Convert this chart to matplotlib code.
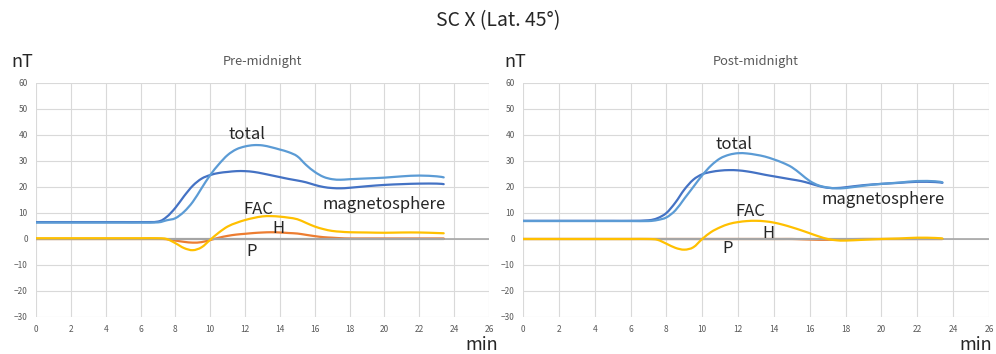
import matplotlib
matplotlib.use('Agg')
import matplotlib.pyplot as plt
from matplotlib.path import Path
from matplotlib.patches import PathPatch

plt.rcParams['font.family'] = ['Noto Sans CJK JP', 'DejaVu Sans']

# time axis (min)
t = [0, 1, 2, 3, 4, 5, 6, 7, 7.5, 8, 8.5, 9, 9.5, 10, 10.5, 11, 11.5, 12, 12.5,
     13, 13.5, 14, 14.5, 15, 15.5, 16, 16.5, 17, 17.5, 18, 19, 20, 21, 22, 23, 23.4]

# Pre-midnight
pre_mag = [6.5, 6.5, 6.5, 6.5, 6.5, 6.5, 6.5, 6.7, 8.5, 12.0, 16.5, 20.5, 23.2, 24.6, 25.4,
           25.8, 26.1, 26.1, 25.8, 25.2, 24.5, 23.8, 23.1, 22.5, 21.8, 20.8, 20.0, 19.6,
           19.5, 19.7, 20.3, 20.8, 21.1, 21.3, 21.3, 21.1]
pre_total = [6.3, 6.3, 6.3, 6.3, 6.3, 6.3, 6.3, 6.4, 7.2, 8.0, 10.5, 14.3, 19.5, 24.6, 28.8,
             32.3, 34.5, 35.6, 36.1, 36.0, 35.3, 34.4, 33.4, 31.8, 28.5, 25.8, 23.9, 23.0,
             22.8, 23.0, 23.3, 23.6, 24.1, 24.4, 24.1, 23.7]
pre_fac = [0.3, 0.3, 0.3, 0.3, 0.3, 0.3, 0.3, 0.3, 0.0, -1.6, -3.5, -4.3, -3.2, -0.3, 2.5,
           4.8, 6.2, 7.3, 8.1, 8.7, 8.8, 8.6, 8.2, 7.6, 6.2, 4.8, 3.8, 3.1, 2.8, 2.6, 2.5,
           2.4, 2.5, 2.5, 2.3, 2.2]
pre_h = [0, 0, 0, 0, 0, 0, 0, 0, -0.1, -0.6, -1.1, -1.4, -1.2, -0.4, 0.5, 1.2, 1.7, 2.0,
         2.3, 2.5, 2.6, 2.5, 2.3, 2.1, 1.6, 1.1, 0.7, 0.5, 0.3, 0.2, 0.2, 0.2, 0.2, 0.2,
         0.2, 0.2]
pre_p = [0, 0, 0, 0, 0, 0, 0, 0, 0, 0, 0, 0, 0, 0, 0, 0, 0, 0, 0, 0, 0, 0, 0, 0, 0, 0,
         0, 0, 0, 0, 0, 0, 0, 0, 0, 0]

# Post-midnight
post_mag = [7.0, 7.0, 7.0, 7.0, 7.0, 7.0, 7.0, 7.2, 8.0, 10.0, 14.0, 19.0, 22.8, 24.9, 25.8,
            26.3, 26.5, 26.4, 26.0, 25.4, 24.7, 24.1, 23.5, 22.9, 22.3, 21.4, 20.4, 19.7,
            19.6, 19.9, 20.7, 21.2, 21.6, 22.0, 21.9, 21.6]
post_total = [6.9, 6.9, 6.9, 6.9, 6.9, 6.9, 6.9, 6.9, 7.3, 8.3, 11.0, 15.5, 20.0, 24.5, 28.3,
              31.0, 32.4, 33.0, 32.9, 32.4, 31.7, 30.6, 29.3, 27.6, 25.0, 22.3, 20.6, 19.8,
              19.5, 19.6, 20.5, 21.2, 21.7, 22.3, 22.2, 21.8]
post_fac = [0, 0, 0, 0, 0, 0, 0, 0, -0.3, -1.8, -3.4, -4.1, -3.2, 0.0, 2.7, 4.5, 5.8, 6.5,
            6.9, 7.0, 6.8, 6.3, 5.5, 4.5, 3.4, 2.2, 1.0, 0.0, -0.5, -0.6, -0.3, 0.0, 0.2,
            0.5, 0.4, 0.2]
post_h = [0, 0, 0, 0, 0, 0, 0, 0, 0, 0, 0, 0, 0, 0, 0, 0, 0, 0, 0, 0, 0, 0, 0, 0, -0.1,
          -0.2, -0.3, -0.3, -0.2, -0.1, 0, 0, 0, 0, 0, 0]
post_p = [0, 0, 0, 0, 0, 0, 0, 0, 0, 0, 0, 0, 0, 0, 0, 0, 0, 0, 0, 0, 0, 0, 0, 0, 0, 0,
          0, 0, 0, 0, 0, 0, 0, 0, 0, 0]

xticks = list(range(0, 27, 2))
yticks = list(range(-30, 61, 10))

colors = {'mag': '#4472C4', 'h': '#ED7D31', 'p': '#A5A5A5',
          'fac': '#FFC000', 'total': '#5B9BD5'}


def smooth_line(ax, xs, ys, color, lw=1.6):
    """Excel-like smoothed line: cubic Bezier through the data points."""
    n = len(xs)
    verts = [(xs[0], ys[0])]
    codes = [Path.MOVETO]
    for i in range(n - 1):
        i0 = max(i - 1, 0)
        i3 = min(i + 2, n - 1)
        c1 = (xs[i] + (xs[i + 1] - xs[i0]) / 6, ys[i] + (ys[i + 1] - ys[i0]) / 6)
        c2 = (xs[i + 1] - (xs[i3] - xs[i]) / 6, ys[i + 1] - (ys[i3] - ys[i]) / 6)
        verts += [c1, c2, (xs[i + 1], ys[i + 1])]
        codes += [Path.CURVE4] * 3
    ax.add_patch(PathPatch(Path(verts, codes), fill=False, edgecolor=color,
                           linewidth=lw, zorder=3, capstyle='round', joinstyle='round'))


fig = plt.figure(figsize=(9.96, 3.54), dpi=100)
fig.text(0.5, 1 - 21 / 354, 'SC X (Lat. 45°)', ha='center', va='center',
         fontsize=14, color='#262626')

panels = [
    dict(rect=[36 / 996, 1 - 317 / 354, 453 / 996, 234 / 354], title='Pre-midnight',
         mag=pre_mag, total=pre_total, fac=pre_fac, h=pre_h, p=pre_p,
         labels={'total': (12.1, 40.3), 'magnetosphere': (20.0, 13.1),
                 'FAC': (12.75, 11.5), 'H': (13.9, 4.2), 'P': (12.4, -5.0)},
         nt_x=22, min_x=482),
    dict(rect=[523 / 996, 1 - 317 / 354, 466 / 996, 234 / 354], title='Post-midnight',
         mag=post_mag, total=post_total, fac=post_fac, h=post_h, p=post_p,
         labels={'total': (11.8, 36.2), 'magnetosphere': (20.1, 15.0),
                 'FAC': (12.7, 10.4), 'H': (13.7, 2.3), 'P': (11.4, -3.8)},
         nt_x=515, min_x=976),
]

for pn in panels:
    ax = fig.add_axes(pn['rect'])
    ax.set_xlim(0, 26)
    ax.set_ylim(-30, 60)
    ax.set_xticks(xticks)
    ax.set_yticks(yticks)
    ax.tick_params(length=0, labelsize=6, colors='#595959', pad=6)
    ax.grid(True, color='#D9D9D9', linewidth=0.8)
    ax.set_axisbelow(True)
    for s in ax.spines.values():
        s.set_visible(False)
    ax.axhline(0, color='#A6A6A6', linewidth=1.2, zorder=1)

    smooth_line(ax, t, pn['mag'], colors['mag'])
    smooth_line(ax, t, pn['h'], colors['h'])
    smooth_line(ax, t, pn['p'], colors['p'])
    smooth_line(ax, t, pn['fac'], colors['fac'])
    smooth_line(ax, t, pn['total'], colors['total'])

    for name, (x, y) in pn['labels'].items():
        ax.text(x, y, name, ha='center', va='center', fontsize=12, color='#262626', zorder=4)

    x0, y0, w, h = pn['rect']
    fig.text(x0 + w / 2, 1 - 61 / 354, pn['title'], ha='center', va='center',
             fontsize=9.3, color='#595959')
    fig.text(pn['nt_x'] / 996, 1 - 62 / 354, 'nT', ha='center', va='center',
             fontsize=13, color='#262626')
    fig.text(pn['min_x'] / 996, 1 - 345 / 354, 'min', ha='center', va='center',
             fontsize=13, color='#262626')

plt.savefig('out.png', dpi=100)
plt.close()
